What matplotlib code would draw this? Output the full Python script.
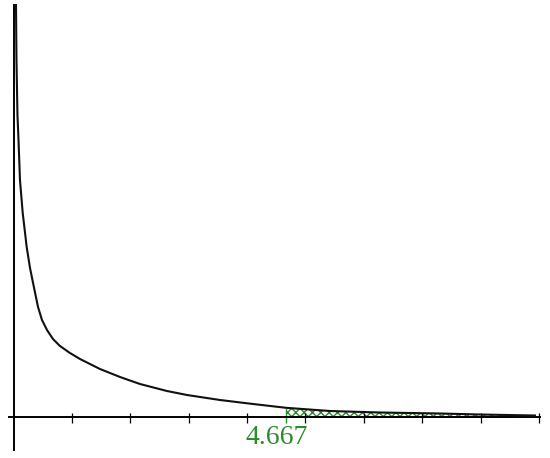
"""Right-skewed density curve with shaded upper tail beyond 4.667."""
import matplotlib

matplotlib.use("Agg")
from matplotlib import pyplot as plt

# curve (x in axis units, y in arbitrary height units)
curve_x = [0.043, 0.051, 0.068, 0.086, 0.111, 0.158, 0.226, 0.283, 0.342,
           0.420, 0.488, 0.574, 0.676, 0.796, 0.967, 1.139, 1.310, 1.481,
           1.824, 2.166, 2.628, 2.971, 3.536, 4.101, 4.667, 5.420, 6.276,
           7.303, 7.988, 8.930]
curve_y = [412, 357, 302, 277, 237, 204, 170, 149, 132,
           110, 97, 87, 78, 71, 64, 58, 53, 48,
           40, 33, 26, 22, 17, 13, 9.2, 6, 4.5,
           3.5, 2.5, 1.5]

tick_values = [1, 2, 3, 4, 5, 6, 7, 8, 9]
cutoff = 4.667
cutoff_label = "4.667"

GREEN = "#2a8c2a"


def plot_density(filename: str = "out.png") -> plt.Figure:
    """Draw the curve, the axes and the shaded tail."""
    plt.rcParams["hatch.linewidth"] = 1.0
    figure = plt.figure(figsize=(5.5, 4.58), dpi=100)
    ax = figure.add_axes([0, 0, 1, 1])
    ax.set_xlim(-0.231, 9.187)
    ax.set_ylim(-41, 417)
    ax.axis("off")

    # shaded tail
    tail_x = [x for x in curve_x if x >= cutoff]
    tail_y = [y for x, y in zip(curve_x, curve_y) if x >= cutoff]
    ax.fill_between(tail_x, 0, tail_y, facecolor="white", edgecolor=GREEN,
                    hatch="xxxx", linewidth=0, zorder=2)
    ax.vlines(cutoff, -6, tail_y[0], color=GREEN, linewidth=1.0, zorder=3)

    # axes
    ax.plot([-0.077, 9.015], [0, 0], color="black", linewidth=1.4, zorder=4)
    ax.plot([0.017, 0.017], [-33, 412], color="black", linewidth=1.4, zorder=4)
    ax.vlines(tick_values, -6, 4, color="black", linewidth=0.9, zorder=4)

    # curve
    ax.plot(curve_x, curve_y, color="#111111", linewidth=1.5, zorder=5,
            solid_joinstyle="round")

    ax.text(cutoff - 0.16, -21, cutoff_label, color=GREEN, fontsize=20,
            family="Liberation Serif", ha="center", va="center")

    figure.savefig(filename, dpi=100)
    plt.close(figure)
    return figure


def main():
    """Main function of the module."""
    plot_density()


if __name__ == "__main__":
    main()
